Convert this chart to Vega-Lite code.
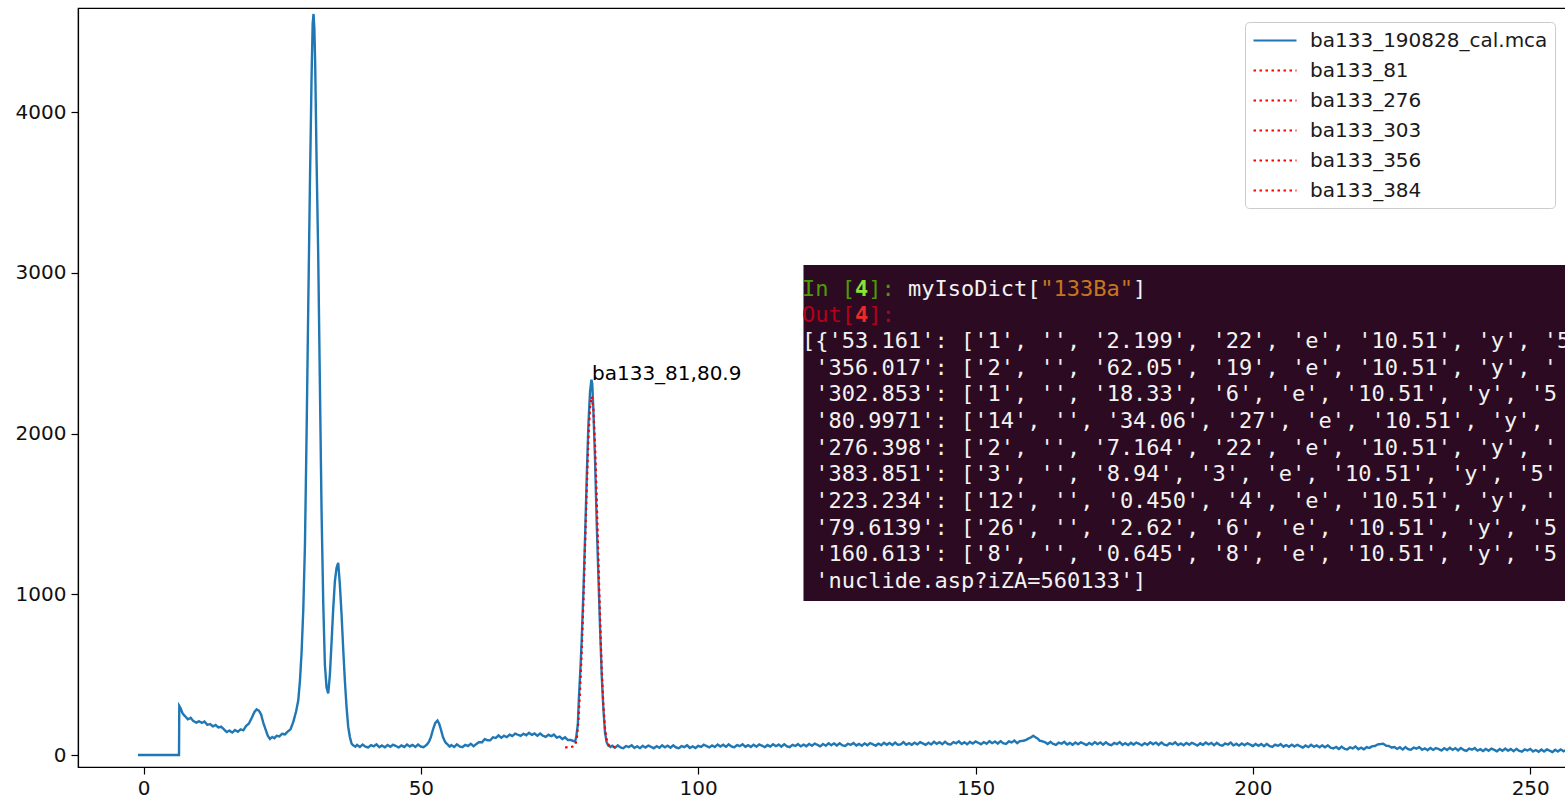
{
"$schema": "https://vega.github.io/schema/vega-lite/v6.json",
"width": 1500, "height": 759,
"autosize": {"type": "none"},
"padding": {"left": 78, "top": 8, "right": 0, "bottom": 36},
"background": "#ffffff",
"config": {
 "font": "DejaVu Sans",
 "view": {"stroke": "#000000", "strokeWidth": 1.2},
 "axis": {"grid": false, "domainColor": "#000000", "domainWidth": 1.2, "tickColor": "#000000", "tickWidth": 1.2, "tickSize": 7, "labelFontSize": 20, "labelColor": "#111111", "labelFont": "DejaVu Sans"},
 "legend": {"symbolType": "M-1,0H3.3", "symbolSize": 400, "symbolStrokeWidth": 2.2, "labelFontSize": 20, "labelLimit": 400, "labelOffset": 35, "padding": 7, "rowPadding": 8, "fillColor": "#ffffff", "strokeColor": "#cccccc", "cornerRadius": 4, "labelColor": "#1a1a1a", "labelFont": "DejaVu Sans"}
},
"datasets": {
"spectrum": [
{"e":-1.0,"c":0},{"e":6.4,"c":0},{"e":6.45,"c":305},{"e":6.7,"c":290},{"e":7.0,"c":262},{"e":7.3,"c":248},{"e":7.5,"c":242},{"e":8.0,"c":222},{"e":8.5,"c":231},{"e":9.0,"c":211},{"e":9.5,"c":201},{"e":10.0,"c":210},{"e":10.5,"c":200},{"e":11.0,"c":208},{"e":11.5,"c":188},{"e":12.0,"c":193},{"e":12.5,"c":178},{"e":13.0,"c":187},{"e":13.5,"c":171},{"e":14.0,"c":176},{"e":14.5,"c":160},{"e":15.0,"c":143},{"e":15.5,"c":152},{"e":16.0,"c":140},{"e":16.5,"c":155},{"e":17.0,"c":145},{"e":17.5,"c":159},{"e":18.0,"c":154},{"e":18.5,"c":181},{"e":19.0,"c":196},{"e":19.5,"c":230},{"e":20.0,"c":268},{"e":20.4,"c":284},{"e":20.8,"c":276},{"e":21.2,"c":252},{"e":21.6,"c":200},{"e":22.0,"c":160},{"e":22.4,"c":120},{"e":22.8,"c":100},{"e":23.2,"c":112},{"e":23.6,"c":104},{"e":24.0,"c":120},{"e":24.5,"c":116},{"e":25.0,"c":132},{"e":25.5,"c":128},{"e":26.0,"c":146},{"e":26.5,"c":160},{"e":27.0,"c":205},{"e":27.5,"c":270},{"e":27.9,"c":340},{"e":28.2,"c":460},{"e":28.5,"c":640},{"e":28.8,"c":900},{"e":29.1,"c":1300},{"e":29.4,"c":2000},{"e":29.7,"c":2790},{"e":30.0,"c":3550},{"e":30.3,"c":4223},{"e":30.5,"c":4550},{"e":30.65,"c":4610},{"e":30.8,"c":4520},{"e":30.95,"c":4300},{"e":31.2,"c":3700},{"e":31.5,"c":3100},{"e":31.8,"c":2300},{"e":32.1,"c":1513},{"e":32.4,"c":950},{"e":32.7,"c":560},{"e":33.0,"c":420},{"e":33.3,"c":383},{"e":33.6,"c":500},{"e":33.9,"c":700},{"e":34.2,"c":909},{"e":34.5,"c":1080},{"e":34.8,"c":1164},{"e":35.1,"c":1196},{"e":35.4,"c":1060},{"e":35.7,"c":878},{"e":36.0,"c":660},{"e":36.3,"c":463},{"e":36.6,"c":300},{"e":36.9,"c":176},{"e":37.2,"c":112},{"e":37.5,"c":72},{"e":37.8,"c":60},{"e":38.2,"c":52},
{"e":38.5,"c":63},{"e":39.0,"c":50},{"e":39.5,"c":65},{"e":40.0,"c":52},{"e":40.5,"c":47},{"e":41.0,"c":61},{"e":41.5,"c":54},{"e":42.0,"c":66},{"e":42.5,"c":49},{"e":43.0,"c":59},{"e":43.5,"c":48},{"e":44.0,"c":62},{"e":44.5,"c":51},{"e":45.0,"c":64},{"e":45.5,"c":56},{"e":46.0,"c":47},{"e":46.5,"c":60},{"e":47.0,"c":50},{"e":47.5,"c":65},{"e":48.0,"c":53},{"e":48.5,"c":63},{"e":49.0,"c":50},{"e":49.5,"c":65},{"e":50.0,"c":52},{"e":50.5,"c":49},{"e":51.0,"c":62},
{"e":51.4,"c":78},{"e":51.8,"c":110},{"e":52.2,"c":160},{"e":52.6,"c":200},{"e":53.0,"c":214},{"e":53.3,"c":195},{"e":53.6,"c":160},{"e":54.0,"c":110},{"e":54.4,"c":80},{"e":54.8,"c":66},{"e":55.2,"c":52},
{"e":55.5,"c":62},{"e":56.0,"c":50},{"e":56.5,"c":66},{"e":57.0,"c":53},{"e":57.5,"c":49},{"e":58.0,"c":63},{"e":58.5,"c":56},{"e":59.0,"c":70},{"e":59.5,"c":55},{"e":60.0,"c":68},{"e":60.5,"c":81},{"e":61.0,"c":78},{"e":61.5,"c":99},{"e":62.0,"c":92},{"e":62.5,"c":91},{"e":63.0,"c":110},{"e":63.5,"c":106},{"e":64.0,"c":122},{"e":64.5,"c":107},{"e":65.0,"c":120},{"e":65.5,"c":111},{"e":66.0,"c":127},{"e":66.5,"c":118},{"e":67.0,"c":133},{"e":67.5,"c":126},{"e":68.0,"c":119},{"e":68.5,"c":132},{"e":69.0,"c":123},{"e":69.5,"c":138},{"e":70.0,"c":125},{"e":70.5,"c":134},{"e":71.0,"c":120},{"e":71.5,"c":134},{"e":72.0,"c":120},{"e":72.5,"c":113},{"e":73.0,"c":126},{"e":73.5,"c":117},{"e":74.0,"c":127},{"e":74.5,"c":108},{"e":75.0,"c":115},{"e":75.5,"c":100},{"e":76.0,"c":110},{"e":76.5,"c":93},{"e":77.0,"c":94},{"e":77.4,"c":88},{"e":77.8,"c":84},{"e":78.0,"c":110},
{"e":78.3,"c":190},{"e":78.5,"c":360},{"e":78.8,"c":560},{"e":79.0,"c":720},{"e":79.3,"c":1010},{"e":79.6,"c":1350},{"e":79.9,"c":1720},{"e":80.2,"c":2050},{"e":80.5,"c":2260},{"e":80.75,"c":2335},{"e":80.9,"c":2310},{"e":81.1,"c":2150},{"e":81.4,"c":1840},{"e":81.7,"c":1450},{"e":82.0,"c":1120},{"e":82.3,"c":800},{"e":82.6,"c":500},{"e":82.9,"c":290},{"e":83.2,"c":140},{"e":83.5,"c":78},{"e":83.8,"c":58},{"e":84.2,"c":50},
{"e":84.5,"c":58},{"e":85.0,"c":45},{"e":85.5,"c":60},{"e":86.0,"c":47},{"e":86.5,"c":42},{"e":87.0,"c":56},{"e":87.5,"c":49},{"e":88.0,"c":61},{"e":88.5,"c":44},{"e":89.0,"c":54},{"e":89.5,"c":43},{"e":90.0,"c":57},{"e":90.5,"c":46},{"e":91.0,"c":59},{"e":91.5,"c":51},{"e":92.0,"c":42},{"e":92.5,"c":55},{"e":93.0,"c":45},{"e":93.5,"c":60},{"e":94.0,"c":48},{"e":94.5,"c":58},{"e":95.0,"c":45},{"e":95.5,"c":60},{"e":96.0,"c":47},{"e":96.5,"c":42},{"e":97.0,"c":56},{"e":97.5,"c":49},{"e":98.0,"c":61},{"e":98.5,"c":44},{"e":99.0,"c":54},{"e":99.5,"c":43},{"e":100.0,"c":57},
{"e":100.5,"c":50},{"e":101.0,"c":64},{"e":101.5,"c":56},{"e":102.0,"c":47},{"e":102.5,"c":60},{"e":103.0,"c":50},{"e":103.5,"c":65},{"e":104.0,"c":53},{"e":104.5,"c":64},{"e":105.0,"c":51},{"e":105.5,"c":66},{"e":106.0,"c":53},{"e":106.5,"c":48},{"e":107.0,"c":62},{"e":107.5,"c":55},{"e":108.0,"c":67},{"e":108.5,"c":51},{"e":109.0,"c":61},{"e":109.5,"c":50},{"e":110.0,"c":64},{"e":110.5,"c":52},{"e":111.0,"c":66},{"e":111.5,"c":58},{"e":112.0,"c":49},{"e":112.5,"c":62},{"e":113.0,"c":52},{"e":113.5,"c":67},{"e":114.0,"c":55},{"e":114.5,"c":65},{"e":115.0,"c":52},{"e":115.5,"c":67},{"e":116.0,"c":54},{"e":116.5,"c":49},{"e":117.0,"c":63},{"e":117.5,"c":56},{"e":118.0,"c":68},
{"e":118.5,"c":54},{"e":119.0,"c":65},{"e":119.5,"c":54},{"e":120.0,"c":69},{"e":120.5,"c":58},{"e":121.0,"c":71},{"e":121.5,"c":63},{"e":122.0,"c":54},{"e":122.5,"c":68},{"e":123.0,"c":58},{"e":123.5,"c":73},{"e":124.0,"c":61},{"e":124.5,"c":72},{"e":125.0,"c":59},{"e":125.5,"c":73},{"e":126.0,"c":60},{"e":126.5,"c":56},{"e":127.0,"c":70},{"e":127.5,"c":63},{"e":128.0,"c":75},{"e":128.5,"c":59},{"e":129.0,"c":69},{"e":129.5,"c":58},{"e":130.0,"c":72},{"e":130.5,"c":61},{"e":131.0,"c":74},{"e":131.5,"c":66},{"e":132.0,"c":58},{"e":132.5,"c":71},{"e":133.0,"c":61},{"e":133.5,"c":76},{"e":134.0,"c":64},{"e":134.5,"c":75},{"e":135.0,"c":62},{"e":135.5,"c":77},{"e":136.0,"c":64},
{"e":136.5,"c":66},{"e":137.0,"c":80},{"e":137.5,"c":64},{"e":138.0,"c":74},{"e":138.5,"c":63},{"e":139.0,"c":77},{"e":139.5,"c":66},{"e":140.0,"c":80},{"e":140.5,"c":72},{"e":141.0,"c":63},{"e":141.5,"c":76},{"e":142.0,"c":66},{"e":142.5,"c":82},{"e":143.0,"c":70},{"e":143.5,"c":80},{"e":144.0,"c":67},{"e":144.5,"c":82},{"e":145.0,"c":69},{"e":145.5,"c":65},{"e":146.0,"c":80},{"e":146.5,"c":73},{"e":147.0,"c":85},{"e":147.5,"c":68},{"e":148.0,"c":79},{"e":148.5,"c":67},{"e":149.0,"c":82},{"e":149.5,"c":71},{"e":150.0,"c":84},{"e":150.5,"c":76},{"e":151.0,"c":67},{"e":151.5,"c":80},{"e":152.0,"c":70},{"e":152.5,"c":86},{"e":153.0,"c":74},{"e":153.5,"c":84},{"e":154.0,"c":71},{"e":154.5,"c":86},{"e":155.0,"c":73},{"e":155.5,"c":69},{"e":156.0,"c":85},{"e":156.5,"c":78},{"e":157.0,"c":90},{"e":157.5,"c":74},{"e":158.0,"c":86},
{"e":158.5,"c":88},{"e":159.0,"c":92},{"e":159.5,"c":102},{"e":160.0,"c":110},{"e":160.4,"c":120},{"e":160.8,"c":110},{"e":161.2,"c":102},{"e":161.6,"c":88},{"e":162.0,"c":86},
{"e":162.5,"c":80},{"e":163.0,"c":68},{"e":163.5,"c":82},{"e":164.0,"c":69},{"e":164.5,"c":63},{"e":165.0,"c":77},{"e":165.5,"c":70},{"e":166.0,"c":82},{"e":166.5,"c":65},{"e":167.0,"c":75},{"e":167.5,"c":64},{"e":168.0,"c":78},{"e":168.5,"c":67},{"e":169.0,"c":79},{"e":169.5,"c":71},{"e":170.0,"c":62},{"e":170.5,"c":75},{"e":171.0,"c":65},{"e":171.5,"c":80},{"e":172.0,"c":68},{"e":172.5,"c":78},{"e":173.0,"c":64},{"e":173.5,"c":79},{"e":174.0,"c":66},{"e":174.5,"c":61},{"e":175.0,"c":75},{"e":175.5,"c":68},{"e":176.0,"c":80},{"e":176.5,"c":63},{"e":177.0,"c":73},{"e":177.5,"c":62},{"e":178.0,"c":76},{"e":178.5,"c":65},{"e":179.0,"c":77},{"e":179.5,"c":69},{"e":180.0,"c":60},{"e":180.5,"c":74},{"e":181.0,"c":64},{"e":181.5,"c":79},{"e":182.0,"c":67},{"e":182.5,"c":77},{"e":183.0,"c":63},{"e":183.5,"c":78},{"e":184.0,"c":65},{"e":184.5,"c":60},{"e":185.0,"c":74},{"e":185.5,"c":67},{"e":186.0,"c":79},{"e":186.5,"c":62},{"e":187.0,"c":72},{"e":187.5,"c":61},{"e":188.0,"c":75},{"e":188.5,"c":64},{"e":189.0,"c":76},{"e":189.5,"c":68},{"e":190.0,"c":59},{"e":190.5,"c":73},{"e":191.0,"c":63},{"e":191.5,"c":78},{"e":192.0,"c":66},{"e":192.5,"c":75},{"e":193.0,"c":61},{"e":193.5,"c":76},{"e":194.0,"c":63},{"e":194.5,"c":58},{"e":195.0,"c":72},{"e":195.5,"c":65},{"e":196.0,"c":77},{"e":196.5,"c":60},{"e":197.0,"c":70},{"e":197.5,"c":59},{"e":198.0,"c":72},{"e":198.5,"c":61},{"e":199.0,"c":73},{"e":199.5,"c":65},
{"e":200.0,"c":55},{"e":200.5,"c":69},{"e":201.0,"c":57},{"e":201.5,"c":69},{"e":202.0,"c":55},{"e":202.5,"c":69},{"e":203.0,"c":56},{"e":203.5,"c":51},{"e":204.0,"c":64},{"e":204.5,"c":57},{"e":205.0,"c":68},{"e":205.5,"c":52},{"e":206.0,"c":62},{"e":206.5,"c":51},{"e":207.0,"c":64},{"e":207.5,"c":53},{"e":208.0,"c":63},{"e":208.5,"c":55},{"e":209.0,"c":46},{"e":209.5,"c":59},{"e":210.0,"c":49},{"e":210.5,"c":64},{"e":211.0,"c":51},{"e":211.5,"c":60},{"e":212.0,"c":48},{"e":212.5,"c":60},{"e":213.0,"c":48},{"e":213.5,"c":60},{"e":214.0,"c":46},{"e":214.5,"c":41},
{"e":215.0,"c":50},{"e":215.5,"c":37},{"e":216.0,"c":52},{"e":216.5,"c":39},{"e":217.0,"c":34},{"e":217.5,"c":48},{"e":218.0,"c":41},{"e":218.5,"c":53},{"e":219.0,"c":36},{"e":219.5,"c":46},{"e":220.0,"c":35},{"e":220.5,"c":49},{"e":221.0,"c":44},{"e":221.5,"c":54},{"e":222.0,"c":56},{"e":222.5,"c":66},{"e":223.0,"c":68},{"e":223.5,"c":70},{"e":224.0,"c":58},{"e":224.5,"c":56},{"e":225.0,"c":46},{"e":225.5,"c":50},{"e":226.0,"c":38},{"e":226.5,"c":48},
{"e":227.0,"c":34},{"e":227.5,"c":49},{"e":228.0,"c":36},{"e":228.5,"c":33},{"e":229.0,"c":46},{"e":229.5,"c":40},{"e":230.0,"c":49},{"e":230.5,"c":33},{"e":231.0,"c":41},{"e":231.5,"c":30},{"e":232.0,"c":44},{"e":232.5,"c":32},{"e":233.0,"c":43},{"e":233.5,"c":37},{"e":234.0,"c":28},{"e":234.5,"c":42},{"e":235.0,"c":31},{"e":235.5,"c":45},{"e":236.0,"c":32},{"e":236.5,"c":42},{"e":237.0,"c":29},{"e":237.5,"c":44},{"e":238.0,"c":31},{"e":238.5,"c":26},{"e":239.0,"c":40},{"e":239.5,"c":33},{"e":240.0,"c":43},{"e":240.5,"c":27},{"e":241.0,"c":36},{"e":241.5,"c":25},{"e":242.0,"c":38},{"e":242.5,"c":27},{"e":243.0,"c":40},{"e":243.5,"c":32},{"e":244.0,"c":23},{"e":244.5,"c":37},{"e":245.0,"c":26},{"e":245.5,"c":40},{"e":246.0,"c":27},{"e":246.5,"c":37},{"e":247.0,"c":24},{"e":247.5,"c":38},{"e":248.0,"c":26},{"e":248.5,"c":21},{"e":249.0,"c":35},{"e":249.5,"c":28},{"e":250.0,"c":38},{"e":250.5,"c":22},{"e":251.0,"c":31},{"e":251.5,"c":20},{"e":252.0,"c":34},{"e":252.5,"c":22},{"e":253.0,"c":35},{"e":253.5,"c":27},{"e":254.0,"c":18},{"e":254.5,"c":33},{"e":255.0,"c":22},{"e":255.5,"c":35},{"e":256.0,"c":23},{"e":256.5,"c":32},{"e":257.0,"c":20},{"e":257.5,"c":33},{"e":258.0,"c":21},{"e":258.5,"c":17},{"e":259.0,"c":30}
],
"fit": [
{"e":76.0,"c":48},{"e":76.3,"c":48},{"e":76.6,"c":49},{"e":77.0,"c":50},{"e":77.4,"c":53},{"e":77.8,"c":60},{"e":78.1,"c":95},{"e":78.4,"c":210},{"e":78.7,"c":400},{"e":79.0,"c":640},{"e":79.3,"c":950},{"e":79.6,"c":1300},{"e":79.9,"c":1650},{"e":80.2,"c":1960},{"e":80.5,"c":2160},{"e":80.8,"c":2230},{"e":81.1,"c":2150},{"e":81.4,"c":1930},{"e":81.7,"c":1600},{"e":82.0,"c":1220},{"e":82.3,"c":860},{"e":82.6,"c":540},{"e":82.9,"c":310},{"e":83.2,"c":165},{"e":83.5,"c":95},{"e":83.8,"c":66},{"e":84.1,"c":54},{"e":84.5,"c":50},{"e":85.0,"c":49}
],
"note": [{"e":80.85,"c":2330,"t":"ba133_81,80.9"}],
"box": [{"e":118.98,"e2":270,"c":3048,"c2":958}],
"term": [
{"e":118.71,"c":2899,"k":"in","t":"In ["},
{"e":128.26,"c":2899,"k":"in4","t":"4"},
{"e":130.64,"c":2899,"k":"in","t":"]:"},
{"e":137.81,"c":2899,"k":"code","t":"myIsoDict["},
{"e":161.67,"c":2899,"k":"str","t":"\"133Ba\""},
{"e":178.38,"c":2899,"k":"code","t":"]"},
{"e":118.71,"c":2740,"k":"out","t":"Out["},
{"e":128.26,"c":2740,"k":"out4","t":"4"},
{"e":130.64,"c":2740,"k":"out","t":"]:"},
{"e":118.71,"c":2575,"k":"code","t":"[{'53.161': ['1', '', '2.199', '22', 'e', '10.51', 'y', '5"},
{"e":121.10,"c":2409,"k":"code","t":"'356.017': ['2', '', '62.05', '19', 'e', '10.51', 'y', '"},
{"e":121.10,"c":2244,"k":"code","t":"'302.853': ['1', '', '18.33', '6', 'e', '10.51', 'y', '5"},
{"e":121.10,"c":2078,"k":"code","t":"'80.9971': ['14', '', '34.06', '27', 'e', '10.51', 'y',"},
{"e":121.10,"c":1912,"k":"code","t":"'276.398': ['2', '', '7.164', '22', 'e', '10.51', 'y', '"},
{"e":121.10,"c":1746,"k":"code","t":"'383.851': ['3', '', '8.94', '3', 'e', '10.51', 'y', '5'"},
{"e":121.10,"c":1580,"k":"code","t":"'223.234': ['12', '', '0.450', '4', 'e', '10.51', 'y', '"},
{"e":121.10,"c":1414,"k":"code","t":"'79.6139': ['26', '', '2.62', '6', 'e', '10.51', 'y', '5"},
{"e":121.10,"c":1248,"k":"code","t":"'160.613': ['8', '', '0.645', '8', 'e', '10.51', 'y', '5"},
{"e":121.10,"c":1082,"k":"code","t":"'nuclide.asp?iZA=560133']"}
]
},
"layer": [
{
 "data": {"name": "spectrum"},
 "transform": [{"calculate": "'ba133_190828_cal.mca'", "as": "s"}],
 "mark": {"type": "line", "strokeWidth": 2.4, "clip": true},
 "encoding": {
  "x": {"field": "e", "type": "quantitative", "scale": {"domain": [-11.81, 258.61], "nice": false, "zero": false}, "axis": {"values": [0, 50, 100, 150, 200, 250], "title": null, "labelPadding": 4, "format": "d"}},
  "y": {"field": "c", "type": "quantitative", "scale": {"domain": [-74.6, 4647], "nice": false, "zero": false}, "axis": {"values": [0, 1000, 2000, 3000, 4000], "title": null, "labelPadding": 5, "format": "d"}},
  "color": {"field": "s", "type": "nominal", "scale": {"domain": ["ba133_190828_cal.mca", "ba133_81", "ba133_276", "ba133_303", "ba133_356", "ba133_384"], "range": ["#1f77b4", "#ff0000", "#ff0000", "#ff0000", "#ff0000", "#ff0000"]}, "legend": {"title": null, "orient": "none", "legendX": 1167, "legendY": 14}},
  "strokeDash": {"field": "s", "type": "nominal", "scale": {"domain": ["ba133_190828_cal.mca", "ba133_81", "ba133_276", "ba133_303", "ba133_356", "ba133_384"], "range": [[1, 0], [2.5, 3.5], [2.5, 3.5], [2.5, 3.5], [2.5, 3.5], [2.5, 3.5]]}, "legend": {"title": null, "orient": "none", "legendX": 1167, "legendY": 14}}
 }
},
{
 "data": {"name": "fit"},
 "transform": [{"calculate": "'ba133_81'", "as": "s"}],
 "mark": {"type": "line", "strokeWidth": 2.2, "clip": true},
 "encoding": {
  "x": {"field": "e", "type": "quantitative"},
  "y": {"field": "c", "type": "quantitative"},
  "color": {"field": "s", "type": "nominal"},
  "strokeDash": {"field": "s", "type": "nominal"}
 }
},
{
 "data": {"name": "note"},
 "mark": {"type": "text", "align": "left", "baseline": "alphabetic", "fontSize": 20, "font": "DejaVu Sans", "color": "#000000"},
 "encoding": {"x": {"field": "e", "type": "quantitative"}, "y": {"field": "c", "type": "quantitative"}, "text": {"field": "t"}}
},
{
 "data": {"name": "box"},
 "mark": {"type": "rect", "color": "#2c0b22"},
 "encoding": {"x": {"field": "e", "type": "quantitative"}, "x2": {"field": "e2"}, "y": {"field": "c", "type": "quantitative"}, "y2": {"field": "c2"}}
},
{
 "data": {"name": "term"},
 "transform": [{"filter": "datum.k === 'code'"}],
 "mark": {"type": "text", "align": "left", "baseline": "middle", "fontSize": 22, "font": "DejaVu Sans Mono", "color": "#f2f2f2"},
 "encoding": {"x": {"field": "e", "type": "quantitative"}, "y": {"field": "c", "type": "quantitative"}, "text": {"field": "t"}}
},
{
 "data": {"name": "term"},
 "transform": [{"filter": "datum.k === 'in'"}],
 "mark": {"type": "text", "align": "left", "baseline": "middle", "fontSize": 22, "font": "DejaVu Sans Mono", "color": "#4e9a06"},
 "encoding": {"x": {"field": "e", "type": "quantitative"}, "y": {"field": "c", "type": "quantitative"}, "text": {"field": "t"}}
},
{
 "data": {"name": "term"},
 "transform": [{"filter": "datum.k === 'in4'"}],
 "mark": {"type": "text", "align": "left", "baseline": "middle", "fontSize": 22, "font": "DejaVu Sans Mono", "fontWeight": "bold", "color": "#8ae234"},
 "encoding": {"x": {"field": "e", "type": "quantitative"}, "y": {"field": "c", "type": "quantitative"}, "text": {"field": "t"}}
},
{
 "data": {"name": "term"},
 "transform": [{"filter": "datum.k === 'str'"}],
 "mark": {"type": "text", "align": "left", "baseline": "middle", "fontSize": 22, "font": "DejaVu Sans Mono", "color": "#c8761e"},
 "encoding": {"x": {"field": "e", "type": "quantitative"}, "y": {"field": "c", "type": "quantitative"}, "text": {"field": "t"}}
},
{
 "data": {"name": "term"},
 "transform": [{"filter": "datum.k === 'out'"}],
 "mark": {"type": "text", "align": "left", "baseline": "middle", "fontSize": 22, "font": "DejaVu Sans Mono", "color": "#b3001b"},
 "encoding": {"x": {"field": "e", "type": "quantitative"}, "y": {"field": "c", "type": "quantitative"}, "text": {"field": "t"}}
},
{
 "data": {"name": "term"},
 "transform": [{"filter": "datum.k === 'out4'"}],
 "mark": {"type": "text", "align": "left", "baseline": "middle", "fontSize": 22, "font": "DejaVu Sans Mono", "fontWeight": "bold", "color": "#ef2929"},
 "encoding": {"x": {"field": "e", "type": "quantitative"}, "y": {"field": "c", "type": "quantitative"}, "text": {"field": "t"}}
}
]
}
